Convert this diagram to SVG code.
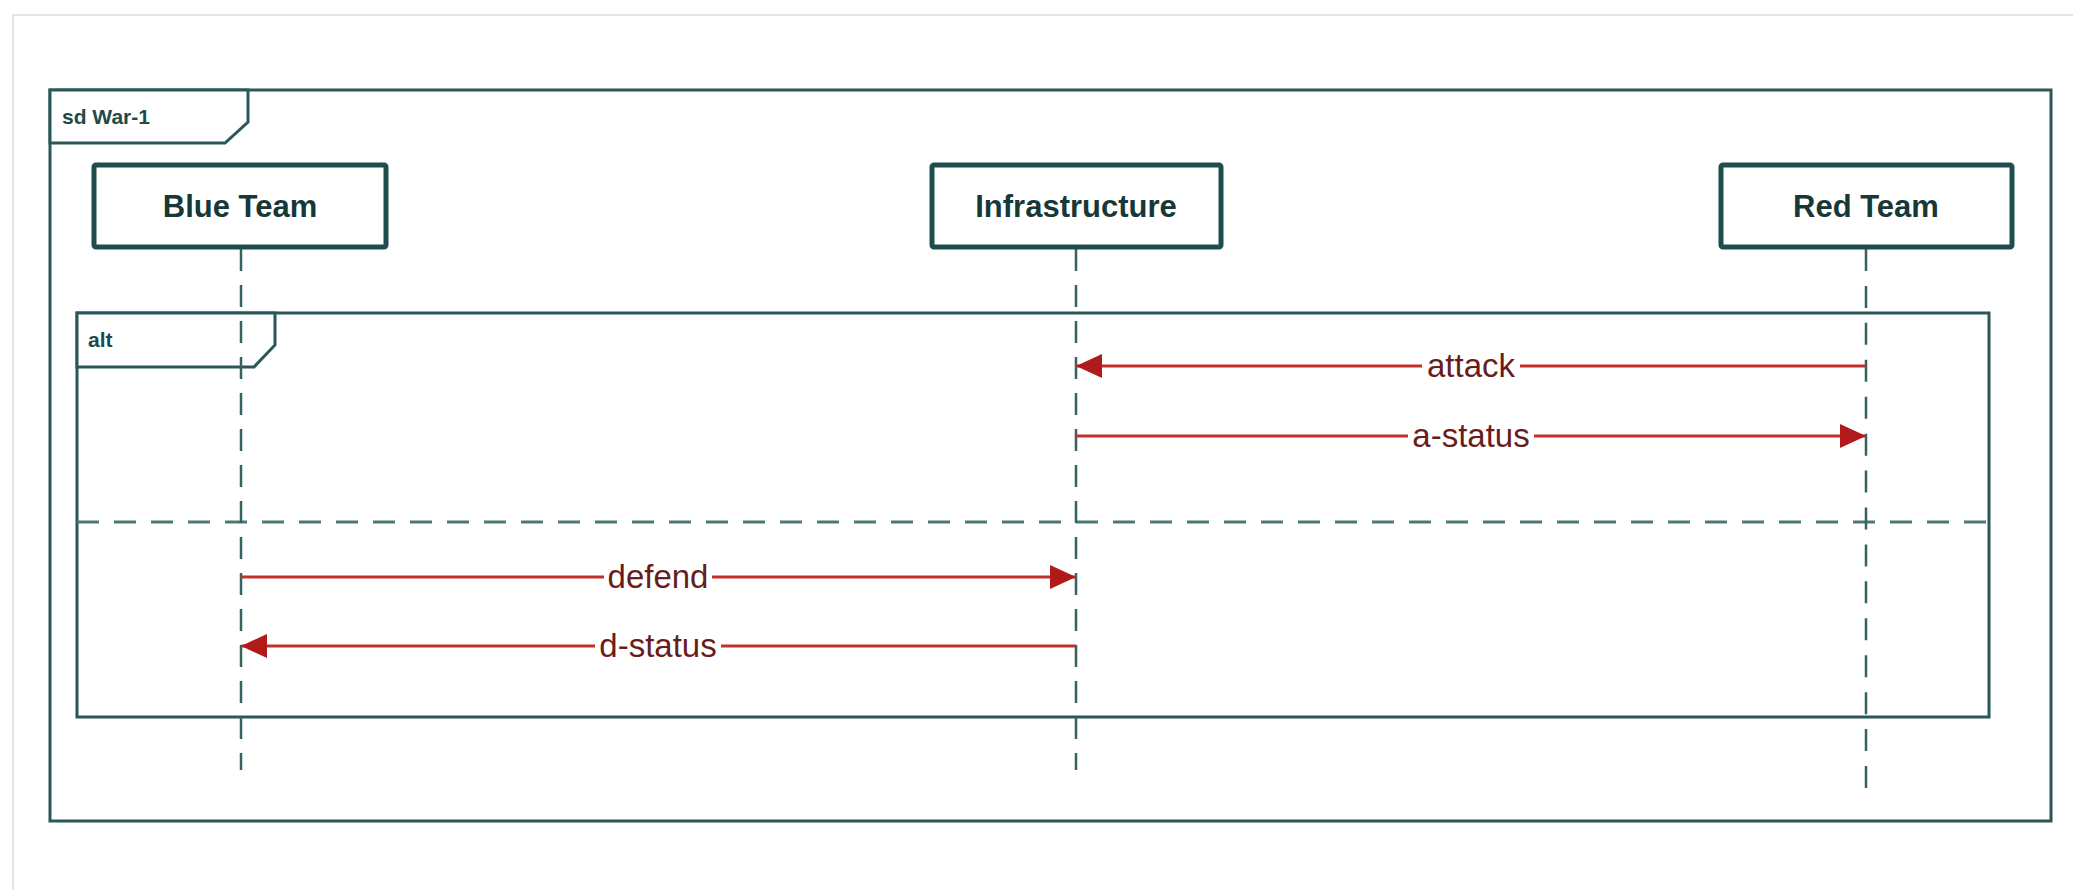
<svg xmlns="http://www.w3.org/2000/svg" width="2073" height="890" viewBox="0 0 2073 890">
  <style>
    .page { fill: none; stroke: #e6e6e6; stroke-width: 2; }
    .frame { fill: none; stroke: #2a5757; stroke-width: 3; }
    .tab { fill: #ffffff; stroke: #2a5757; stroke-width: 3; }
    .tabtext { font-family: "Liberation Sans", Arial, sans-serif; font-weight: bold; font-size: 21px; fill: #1f4a4a; }
    .box { fill: #ffffff; stroke: #1f4d4d; stroke-width: 5; }
    .boxtext { font-family: "Liberation Sans", Arial, sans-serif; font-weight: bold; font-size: 31px; fill: #173838; text-anchor: middle; }
    .lifeline { stroke: #36625f; stroke-width: 2.5; stroke-dasharray: 22 14; fill: none; }
    .lifeline-long { stroke-dasharray: 22 14.93; }
    .divider { stroke: #4c7874; stroke-width: 3; stroke-dasharray: 22 15; fill: none; }
    .msg { stroke: #c3302c; stroke-width: 3; fill: none; }
    .lblbg { fill: #ffffff; }
    .lbl { font-family: "Liberation Sans", Arial, sans-serif; font-size: 33px; fill: #6a1c1c; text-anchor: middle; }
  </style>
  <defs>
    <marker id="arrow" markerUnits="userSpaceOnUse" viewBox="0 0 26 24" refX="26" refY="12" markerWidth="26" markerHeight="24" orient="auto">
      <path d="M0,0 L26,12 L0,24 Z" fill="#b01a1a"/>
    </marker>
  </defs>

  <rect width="2073" height="890" fill="#ffffff"/>
  <path class="page" d="M13,890 L13,15 L2073,15"/>

  <g id="frame-sd">
    <rect class="frame" x="50" y="90" width="2001" height="731"/>
    <path class="tab" d="M50,90 L248,90 L248,122 L225,143 L50,143 Z"/>
    <text class="tabtext" x="62" y="124">sd War-1</text>
  </g>

  <g id="frame-alt">
    <rect class="frame" x="77" y="313" width="1912" height="404"/>
    <path class="tab" d="M77,313 L275,313 L275,345 L254,367 L77,367 Z"/>
    <text class="tabtext" x="88" y="347">alt</text>
    <line class="divider" x1="77" y1="522" x2="1989" y2="522"/>
  </g>

  <g id="lifelines">
    <line class="lifeline" x1="241" y1="249" x2="241" y2="770"/>
    <line class="lifeline" x1="1076" y1="249" x2="1076" y2="770"/>
    <line class="lifeline lifeline-long" x1="1866" y1="249" x2="1866" y2="788"/>
  </g>

  <g id="blue-team">
    <rect class="box" x="94" y="165" width="292" height="82" rx="2"/>
    <text class="boxtext" x="240" y="217">Blue Team</text>
  </g>

  <g id="infrastructure">
    <rect class="box" x="932" y="165" width="289" height="82" rx="2"/>
    <text class="boxtext" x="1076" y="217">Infrastructure</text>
  </g>

  <g id="red-team">
    <rect class="box" x="1721" y="165" width="291" height="82" rx="2"/>
    <text class="boxtext" x="1866" y="217">Red Team</text>
  </g>

  <g id="connectors">
    <line class="msg" x1="1866" y1="366" x2="1076" y2="366" marker-end="url(#arrow)"/>
    <rect class="lblbg" x="1422" y="350" width="98" height="32"/>
    <text class="lbl" x="1471" y="377">attack</text>

    <line class="msg" x1="1076" y1="436" x2="1866" y2="436" marker-end="url(#arrow)"/>
    <rect class="lblbg" x="1408" y="420" width="126" height="32"/>
    <text class="lbl" x="1471" y="447">a-status</text>

    <line class="msg" x1="241" y1="577" x2="1076" y2="577" marker-end="url(#arrow)"/>
    <rect class="lblbg" x="604" y="561" width="108" height="32"/>
    <text class="lbl" x="658" y="588">defend</text>

    <line class="msg" x1="1076" y1="646" x2="241" y2="646" marker-end="url(#arrow)"/>
    <rect class="lblbg" x="595" y="630" width="126" height="32"/>
    <text class="lbl" x="658" y="657">d-status</text>
  </g>
</svg>
